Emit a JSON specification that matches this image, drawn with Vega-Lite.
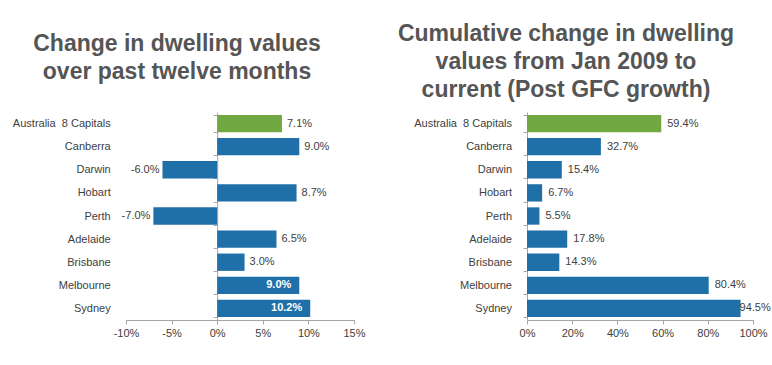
{
  "$schema": "https://vega.github.io/schema/vega-lite/v6.json",
  "padding": {"left": 12, "top": 23, "right": 5, "bottom": 5},
  "background": "white",
  "data": {"values": [
    {"city": "Australia\u00a0 8 Capitals", "change_12m": 0.071, "cumulative": 0.594},
    {"city": "Canberra", "change_12m": 0.090, "cumulative": 0.327},
    {"city": "Darwin", "change_12m": -0.060, "cumulative": 0.154},
    {"city": "Hobart", "change_12m": 0.087, "cumulative": 0.067},
    {"city": "Perth", "change_12m": -0.070, "cumulative": 0.055},
    {"city": "Adelaide", "change_12m": 0.065, "cumulative": 0.178},
    {"city": "Brisbane", "change_12m": 0.030, "cumulative": 0.143},
    {"city": "Melbourne", "change_12m": 0.090, "cumulative": 0.804},
    {"city": "Sydney", "change_12m": 0.102, "cumulative": 0.945}
  ]},
  "config": {
    "view": {"stroke": null},
    "font": "Liberation Sans",
    "locale": {"number": {"decimal": ".", "thousands": ",", "grouping": [3], "currency": ["$", ""], "minus": "-"}},
    "axis": {"labelFont": "Liberation Sans", "labelFontSize": 11, "labelColor": "#404040", "domainColor": "#a6a6a6", "tickColor": "#a6a6a6", "grid": false, "title": null, "tickSize": 4, "labelFlush": false},
    "text": {"font": "Liberation Sans", "fontSize": 11, "color": "#404040"},
    "title": {"font": "Liberation Sans", "fontSize": 23, "fontWeight": "bold", "color": "#555555", "lineHeight": 28, "anchor": "middle", "frame": "group", "baseline": "bottom"}
  },
  "bounds": "flush",
  "spacing": 173,
  "hconcat": [
    {
      "width": 228,
      "height": 208,
      "title": {"text": ["Change in dwelling values", "over past twelve months"], "dx": -63, "offset": 22},
      "encoding": {
        "y": {"field": "city", "type": "nominal", "sort": null,
              "scale": {"paddingInner": 0.25, "paddingOuter": 0.125},
              "axis": {"offset": -91.2, "tickBand": "extent", "labelPadding": 103}},
        "x": {"field": "change_12m", "type": "quantitative",
              "scale": {"domain": [-0.1, 0.15], "nice": false},
              "axis": {"values": [-0.1, -0.05, 0, 0.05, 0.1, 0.15], "format": ".0%", "labelPadding": 3}}
      },
      "layer": [
        {"mark": {"type": "bar"},
         "encoding": {"color": {"condition": {"test": "indexof(datum.city, 'Australia') === 0", "value": "#72a842"}, "value": "#1f6fa9"}}},
        {"transform": [{"filter": "datum.change_12m > 0 && datum.city !== 'Melbourne' && datum.city !== 'Sydney'"}],
         "mark": {"type": "text", "align": "left", "dx": 5},
         "encoding": {"text": {"field": "change_12m", "type": "quantitative", "format": ".1%"}}},
        {"transform": [{"filter": "datum.change_12m < 0"}],
         "mark": {"type": "text", "align": "right", "dx": -3},
         "encoding": {"text": {"field": "change_12m", "type": "quantitative", "format": ".1%"}}},
        {"transform": [{"filter": "datum.city === 'Melbourne' || datum.city === 'Sydney'"}],
         "mark": {"type": "text", "align": "right", "dx": -8, "color": "white", "fontWeight": "bold"},
         "encoding": {"text": {"field": "change_12m", "type": "quantitative", "format": ".1%"}}}
      ]
    },
    {
      "width": 226,
      "height": 208,
      "title": {"text": ["Cumulative change in dwelling", "values from Jan 2009 to", "current (Post GFC growth)"], "dx": -74, "offset": 4},
      "encoding": {
        "y": {"field": "city", "type": "nominal", "sort": null,
              "scale": {"paddingInner": 0.25, "paddingOuter": 0.125},
              "axis": {"tickBand": "extent", "labelPadding": 11.5}},
        "x": {"field": "cumulative", "type": "quantitative",
              "scale": {"domain": [0, 1], "nice": false},
              "axis": {"values": [0, 0.2, 0.4, 0.6, 0.8, 1], "format": ".0%", "labelPadding": 3}}
      },
      "layer": [
        {"mark": {"type": "bar"},
         "encoding": {"color": {"condition": {"test": "indexof(datum.city, 'Australia') === 0", "value": "#72a842"}, "value": "#1f6fa9"}}},
        {"transform": [{"filter": "datum.cumulative < 0.9"}],
         "mark": {"type": "text", "align": "left", "dx": 6},
         "encoding": {"text": {"field": "cumulative", "type": "quantitative", "format": ".1%"}}},
        {"transform": [{"filter": "datum.cumulative >= 0.9"}],
         "mark": {"type": "text", "align": "left", "dx": -1},
         "encoding": {"text": {"field": "cumulative", "type": "quantitative", "format": ".1%"}}}
      ]
    }
  ]
}
